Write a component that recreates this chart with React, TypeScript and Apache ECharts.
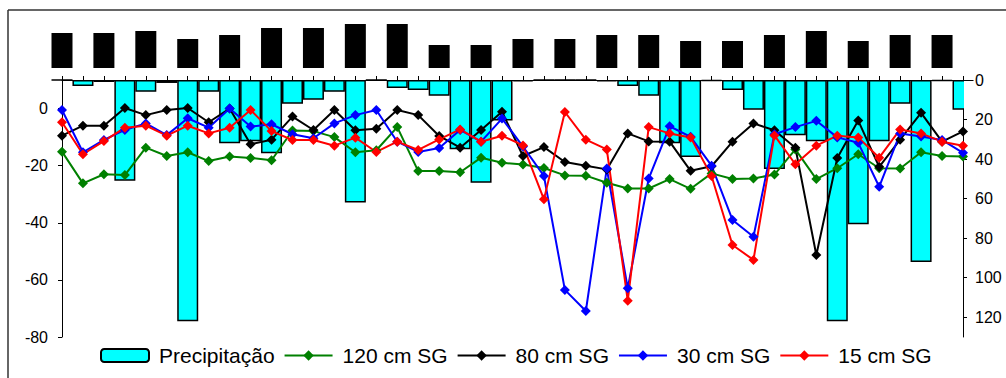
import React, { useEffect, useRef } from 'react';
import * as echarts from 'echarts';

const categories = [
  '1', '2', '3', '4', '5', '6', '7', '8', '9', '10', '11',
  '12', '13', '14', '15', '16', '17', '18', '19', '20', '21', '22',
  '23', '24', '25', '26', '27', '28', '29', '30', '31', '32', '33',
  '34', '35', '36', '37', '38', '39', '40', '41', '42', '43', '44',
];

const precipitacao = [
  0, 3, 1, 51, 6, 1.5, 122, 6, 32, 31, 37,
  12, 10, 6, 62, 0, 4, 5, 8, 35, 52, 20.5,
  0.7, 0, 0, 0, 0.7, 3, 8, 32, 39, 0.5, 5,
  15, 45, 28, 31, 122, 73, 31, 12, 92, 0.5, 15,
];

const sg120 = [
  -15.1, -26.2, -23, -23.3, -13.7, -16.6, -15.3, -18.4, -16.8, -17.3, -18.1,
  -7.7, -7.9, -10, -15.3, -14.6, -6.5, -21.9, -21.9, -22.3, -17.2, -19,
  -19.6, -20.8, -23.4, -23.5, -26, -28, -28, -24.7, -28.1, -22.7, -24.7,
  -24.5, -23.1, -14.3, -24.7, -20.9, -16, -20.9, -21, -15.3, -16.6, -16.8,
];

const sg80 = [
  -9.5, -6, -6, 0.2, -2.3, -0.5, 0.2, -4.8, 0, -12.5, -10.9,
  -2.8, -7.5, -0.5, -7.6, -7.1, -0.5, -2.3, -9.6, -13.7, -7.5, -1.1,
  -16.6, -13.5, -18.7, -20, -21.3, -8.7, -11.5, -11.6, -21.8, -20.2, -11.6,
  -5.2, -7.6, -13.7, -51.3, -17.3, -4.2, -20.4, -10.9, -1.5, -11.6, -8,
];

const sg30 = [
  -0.5, -15.3, -11, -7.5, -5.2, -9.3, -3.4, -6.7, 0, -6.3, -5.5,
  -9, -10.4, -5.2, -2.3, -0.5, -11.6, -15.2, -13.8, -7.5, -11.6, -3.5,
  -13.3, -23.6, -63.5, -70.9, -21, -62.9, -24.5, -6.2, -9.9, -20, -39,
  -44.9, -9, -6.5, -4.3, -10.1, -12, -27.4, -8.7, -9.8, -11, -15.5,
];

const sg15 = [
  -4.8, -16, -11.4, -6.7, -6, -9.5, -6, -8.7, -6.7, -0.5, -7.9,
  -11, -11, -13, -10.2, -15.2, -11.6, -14.5, -10.8, -7.3, -11.6, -9.5,
  -12.9, -31.8, -1.2, -10.9, -14.3, -67.3, -6.5, -8.7, -10.1, -23.6, -47.8,
  -53, -9.4, -19.5, -13, -9.5, -10.1, -17.2, -7.3, -8.7, -11.6, -13,
];

const topBars = [
  35, null, 35, null, 37, null, 29, null, 33, null, 40,
  null, 40, null, 44, null, 44, null, 23, null, 23, null,
  29, null, 29, null, 33, null, 33, null, 27, null, 27,
  null, 33, null, 37, null, 27, null, 33, null, 33, null,
];

const leftTicks = { min: -80, max: 10, interval: 20 };
const rightTicks = { min: 0, max: 130, interval: 20 };

const FONT = "'Liberation Sans', Arial, sans-serif";

function lineSeries(name: string, data: number[], color: string) {
  return {
    name,
    type: 'line',
    xAxisIndex: 0,
    yAxisIndex: 0,
    data,
    symbol: 'diamond',
    symbolSize: 10,
    lineStyle: { color, width: 2 },
    itemStyle: { color },
    z: 3,
  };
}

export default function App() {
  const ref = useRef<HTMLDivElement>(null);
  useEffect(() => {
    document.body.style.margin = '0';
    if (!ref.current) return;
    const chart = echarts.init(ref.current, undefined, { renderer: 'svg' });
    const axisCommon = {
      axisLine: { show: true, onZero: false, lineStyle: { color: '#000', width: 1 } },
      axisTick: { show: true, length: 4, lineStyle: { color: '#000', width: 1 } },
      splitLine: { show: false },
    };
    chart.setOption({
      animation: false,
      textStyle: { fontFamily: FONT },
      graphic: [
        { type: 'line', shape: { x1: 8, y1: 10, x2: 1006, y2: 10 }, style: { stroke: '#333', lineWidth: 1.5 } },
        { type: 'line', shape: { x1: 8, y1: 10, x2: 8, y2: 378 }, style: { stroke: '#333', lineWidth: 1.5 } },
        // mask the half of the last bar that lies outside the plot area
        { type: 'rect', z: 2.5, shape: { x: 964, y: 81, width: 10.5, height: 36 }, style: { fill: '#fff' } },
      ],
      grid: [
        { left: 62, right: 43, top: 80, bottom: 41 },
        { left: 62, right: 43, top: 18, height: 50 },
      ],
      xAxis: [
        {
          type: 'category',
          gridIndex: 0,
          data: categories,
          position: 'top',
          boundaryGap: false,
          ...axisCommon,
          axisTick: { show: true, interval: 0, length: 4, lineStyle: { color: '#000', width: 1 } },
          axisLabel: { show: false },
        },
        {
          type: 'category',
          gridIndex: 1,
          data: categories,
          boundaryGap: false,
          show: false,
        },
      ],
      yAxis: [
        {
          type: 'value',
          gridIndex: 0,
          position: 'left',
          ...leftTicks,
          ...axisCommon,
          axisLabel: { color: '#000', fontSize: 16, margin: 14, showMaxLabel: false, fontFamily: FONT },
        },
        {
          type: 'value',
          gridIndex: 0,
          position: 'right',
          inverse: true,
          ...rightTicks,
          ...axisCommon,
          axisLabel: { color: '#000', fontSize: 16, margin: 12, showMaxLabel: false, fontFamily: FONT },
        },
        { type: 'value', gridIndex: 1, min: 0, max: 50, show: false },
      ],
      legend: {
        data: ['Precipitação', '120 cm SG', '80 cm SG', '30 cm SG', '15 cm SG'],
        left: 95,
        top: 340,
        itemWidth: 48,
        itemHeight: 13,
        itemGap: 9,
        textStyle: { fontSize: 21, color: '#000', fontFamily: FONT, padding: [0, 0, 0, 5] },
      },
      series: [
        {
          name: 'Precipitação',
          type: 'bar',
          xAxisIndex: 0,
          yAxisIndex: 1,
          data: precipitacao,
          barWidth: 21,
          itemStyle: { color: '#00FFFF', borderColor: '#000', borderWidth: 1.5 },
          z: 2,
        },
        lineSeries('120 cm SG', sg120, '#008000'),
        lineSeries('80 cm SG', sg80, '#000000'),
        lineSeries('30 cm SG', sg30, '#0000FF'),
        lineSeries('15 cm SG', sg15, '#FF0000'),
        {
          name: 'topo',
          type: 'bar',
          xAxisIndex: 1,
          yAxisIndex: 2,
          data: topBars,
          barWidth: 21,
          clip: false,
          itemStyle: { color: '#000' },
        },
      ],
    });
    return () => chart.dispose();
  }, []);
  return <div ref={ref} style={{ width: 1006, height: 378 }} />;
}
